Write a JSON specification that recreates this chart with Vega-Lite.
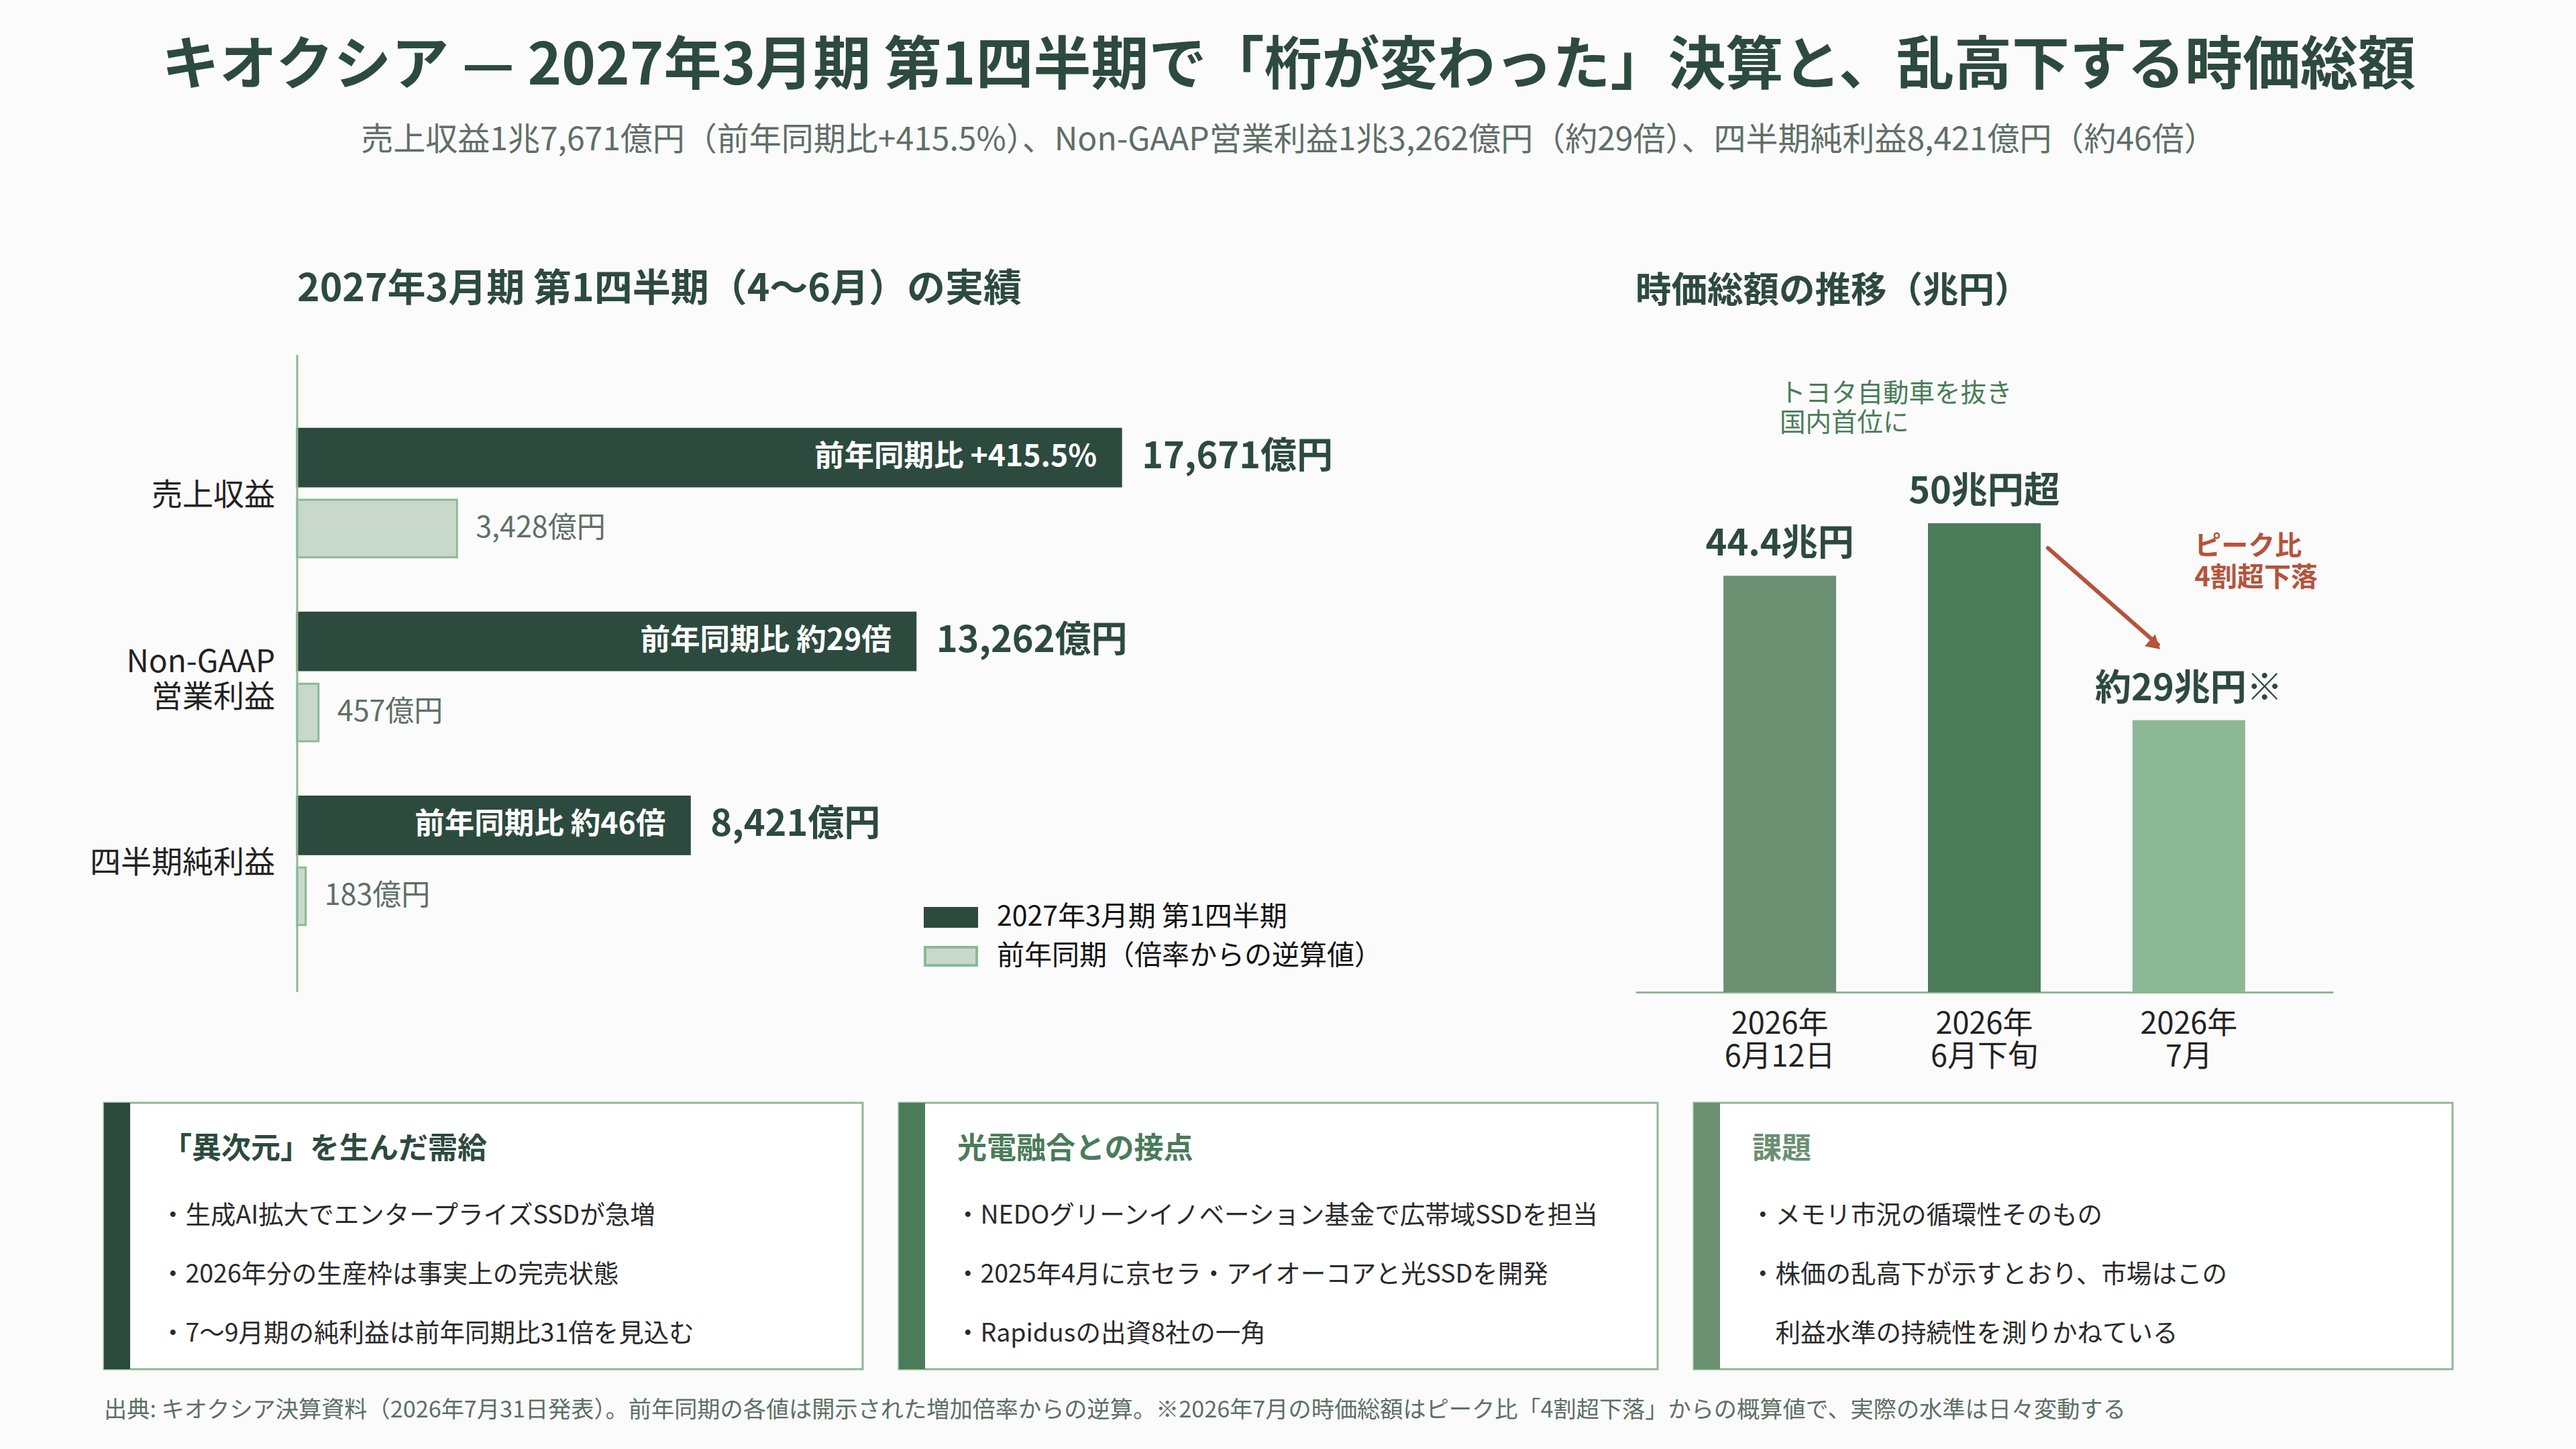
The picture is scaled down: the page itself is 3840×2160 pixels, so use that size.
{
  "$schema": "https://vega.github.io/schema/vega-lite/v6.json",
  "background": "#fbfbfb",
  "padding": {"left": 134, "top": 0, "right": 152, "bottom": 43},
  "config": {
    "font": "Noto Sans CJK JP",
    "view": {"stroke": null},
    "text": {"font": "Noto Sans CJK JP"}
  },
  "spacing": 42,
  "vconcat": [
    {
      "width": 3532,
      "height": 360,
      "data": {
        "values": [
          {"line": 0, "text": "キオクシア — 2027年3月期 第1四半期で「桁が変わった」決算と、乱高下する時価総額"},
          {"line": 1, "text": "売上収益1兆7,671億円（前年同期比+415.5%）、Non-GAAP営業利益1兆3,262億円（約29倍）、四半期純利益8,421億円（約46倍）"}
        ]
      },
      "encoding": {
        "x": {"datum": 0.5, "type": "quantitative", "axis": null, "scale": {"domain": [0, 1]}},
        "y": {"field": "line", "type": "ordinal", "axis": null, "scale": {"type": "band", "paddingInner": 0, "paddingOuter": 0.636, "align": 0.321}},
        "text": {"field": "text", "type": "nominal"}
      },
      "layer": [
        {
          "transform": [{"filter": "datum.line == 0"}],
          "mark": {"type": "text", "baseline": "middle", "fontSize": 86, "fontWeight": "bold", "color": "#2d4a3e"}
        },
        {
          "transform": [{"filter": "datum.line == 1"}],
          "mark": {"type": "text", "baseline": "middle", "fontSize": 48, "color": "#5f6f66"}
        }
      ]
    },
    {
      "spacing": 378,
      "resolve": {"scale": {"color": "independent", "stroke": "independent"}},
      "hconcat": [
        {
          "width": 1900,
          "height": 950,
          "title": {"text": "2027年3月期 第1四半期（4〜6月）の実績", "anchor": "start", "frame": "group", "dx": 288, "fontSize": 57, "fontWeight": "bold", "color": "#2d4a3e", "offset": 67},
          "data": {
            "values": [
              {"metric": "売上収益", "series": "2027年3月期 第1四半期", "value": 17671, "label": "17,671億円", "note": "前年同期比 +415.5%"},
              {"metric": "売上収益", "series": "前年同期（倍率からの逆算値）", "value": 3428, "label": "3,428億円"},
              {"metric": "Non-GAAP|営業利益", "series": "2027年3月期 第1四半期", "value": 13262, "label": "13,262億円", "note": "前年同期比 約29倍"},
              {"metric": "Non-GAAP|営業利益", "series": "前年同期（倍率からの逆算値）", "value": 457, "label": "457億円"},
              {"metric": "四半期純利益", "series": "2027年3月期 第1四半期", "value": 8421, "label": "8,421億円", "note": "前年同期比 約46倍"},
              {"metric": "四半期純利益", "series": "前年同期（倍率からの逆算値）", "value": 183, "label": "183億円"}
            ]
          },
          "encoding": {
            "x": {"field": "value", "type": "quantitative", "axis": null, "scale": {"domain": [-4144, 23194], "nice": false}}
          },
          "layer": [
            {
              "transform": [{"filter": "datum.note != null && indexof(datum.metric, '|') < 0"}],
              "mark": {"type": "text", "align": "right", "baseline": "middle", "dx": -33, "dy": 4, "fontSize": 46, "color": "#222222"},
              "encoding": {
                "x": {"datum": 0, "type": "quantitative"},
                "y": {
                  "field": "metric",
                  "type": "nominal",
                  "sort": null,
                  "axis": null,
                  "scale": {"domain": ["売上収益", "Non-GAAP|営業利益", "四半期純利益"], "paddingInner": 0, "paddingOuter": 0.233, "align": 0.54}
                },
                "text": {"field": "metric", "type": "nominal"}
              }
            },
            {
              "transform": [{"filter": "datum.note != null && indexof(datum.metric, '|') >= 0"}],
              "mark": {"type": "text", "align": "right", "baseline": "middle", "dx": -33, "dy": -21, "fontSize": 46, "lineHeight": 52, "lineBreak": "|", "color": "#222222"},
              "encoding": {
                "x": {"datum": 0, "type": "quantitative"},
                "y": {
                  "field": "metric",
                  "type": "nominal",
                  "sort": null,
                  "axis": null,
                  "scale": {"domain": ["売上収益", "Non-GAAP|営業利益", "四半期純利益"], "paddingInner": 0, "paddingOuter": 0.233, "align": 0.54}
                },
                "text": {"field": "metric", "type": "nominal"}
              }
            },
            {
              "encoding": {
                "y": {
                  "field": "metric",
                  "type": "nominal",
                  "sort": null,
                  "axis": null,
                  "scale": {"domain": ["売上収益", "Non-GAAP|営業利益", "四半期純利益"], "paddingInner": 0, "paddingOuter": 0.233, "align": 0.54}
                },
                "yOffset": {
                  "field": "series",
                  "type": "nominal",
                  "sort": null,
                  "scale": {"paddingInner": 0.19, "paddingOuter": 0.39}
                }
              },
              "layer": [
                {
                  "mark": {"type": "bar", "strokeWidth": 3},
                  "encoding": {
                    "color": {
                      "field": "series",
                      "type": "nominal",
                      "sort": null,
                      "title": null,
                      "scale": {"domain": ["2027年3月期 第1四半期", "前年同期（倍率からの逆算値）"], "range": ["#2d4a3e", "#c8d9cb"]},
                      "legend": {
                        "orient": "none",
                        "legendX": 1241,
                        "legendY": 817,
                        "symbolType": "M-2,-0.7H2V0.7H-2Z",
                        "symbolSize": 1482,
                        "symbolStrokeWidth": 4,
                        "labelFontSize": 41,
                        "labelColor": "#111111",
                        "labelLimit": 900,
                        "labelOffset": 47,
                        "rowPadding": 15,
                        "symbolOpacity": 1
                      }
                    },
                    "stroke": {
                      "field": "series",
                      "type": "nominal",
                      "sort": null,
                      "title": null,
                      "scale": {"domain": ["2027年3月期 第1四半期", "前年同期（倍率からの逆算値）"], "range": ["#2d4a3e", "#8db896"]}
                    }
                  }
                },
                {
                  "transform": [{"filter": "datum.note != null"}],
                  "mark": {"type": "text", "align": "left", "baseline": "middle", "dx": 31, "fontSize": 54, "fontWeight": "bold", "color": "#2d4a3e"},
                  "encoding": {"text": {"field": "label", "type": "nominal"}}
                },
                {
                  "transform": [{"filter": "datum.note != null"}],
                  "mark": {"type": "text", "align": "right", "baseline": "middle", "dx": -36, "fontSize": 44.5, "fontWeight": "bold", "color": "#ffffff"},
                  "encoding": {"text": {"field": "note", "type": "nominal"}}
                },
                {
                  "transform": [{"filter": "datum.note == null"}],
                  "mark": {"type": "text", "align": "left", "baseline": "middle", "dx": 28, "fontSize": 43, "color": "#5f6f66"},
                  "encoding": {"text": {"field": "label", "type": "nominal"}}
                }
              ]
            },
            {
              "data": {"values": [{"origin": 0}]},
              "mark": {"type": "rule", "color": "#8db896", "strokeWidth": 3},
              "encoding": {"x": {"field": "origin", "type": "quantitative"}}
            }
          ]
        },
        {
          "width": 1040,
          "height": 950,
          "title": {"text": "時価総額の推移（兆円）", "anchor": "start", "frame": "group", "fontSize": 53.5, "fontWeight": "bold", "color": "#2d4a3e", "offset": 67},
          "layer": [
            {
              "data": {
                "values": [
                  {"period": "2026年|6月12日", "cap": 44.4, "label": "44.4兆円"},
                  {"period": "2026年|6月下旬", "cap": 50, "label": "50兆円超"},
                  {"period": "2026年|7月", "cap": 29, "label": "約29兆円※"}
                ]
              },
              "encoding": {
                "x": {
                  "field": "period",
                  "type": "nominal",
                  "sort": null,
                  "title": null,
                  "scale": {"paddingInner": 0.449, "paddingOuter": 0.43},
                  "axis": {
                    "labelExpr": "split(datum.label,'|')",
                    "labelAngle": 0,
                    "labelFontSize": 45,
                    "labelLineHeight": 49,
                    "labelColor": "#222222",
                    "labelPadding": 25,
                    "labelLimit": 600,
                    "ticks": false,
                    "domainColor": "#8db896",
                    "domainWidth": 3,
                    "minExtent": 121,
                    "maxExtent": 121
                  }
                },
                "y": {"field": "cap", "type": "quantitative", "axis": null, "scale": {"domain": [0, 67.95], "nice": false}}
              },
              "layer": [
                {
                  "mark": {"type": "bar"},
                  "encoding": {
                    "color": {
                      "field": "period",
                      "type": "nominal",
                      "sort": null,
                      "legend": null,
                      "scale": {"domain": ["2026年|6月12日", "2026年|6月下旬", "2026年|7月"], "range": ["#6b8f71", "#4a7c59", "#8db896"]}
                    }
                  }
                },
                {
                  "mark": {"type": "text", "baseline": "middle", "dy": -46, "fontSize": 54, "fontWeight": "bold", "color": "#2d4a3e"},
                  "encoding": {"text": {"field": "label", "type": "nominal"}}
                }
              ]
            },
            {
              "data": {"values": [{"period": "2026年|6月12日", "level": 63.8, "note": "トヨタ自動車を抜き\n国内首位に"}]},
              "mark": {"type": "text", "align": "left", "baseline": "middle", "fontSize": 38.5, "lineHeight": 44, "lineBreak": "\n", "color": "#4a7c59"},
              "encoding": {
                "x": {"field": "period", "type": "nominal", "sort": null},
                "y": {"field": "level", "type": "quantitative", "scale": {"domain": [0, 67.95], "nice": false}},
                "text": {"field": "note", "type": "nominal"}
              }
            },
            {
              "data": {"values": [{"period": "2026年|7月", "level": 47.5, "note": "ピーク比\n4割超下落"}]},
              "mark": {"type": "text", "align": "left", "baseline": "middle", "fontSize": 40, "fontWeight": "bold", "lineHeight": 47, "lineBreak": "\n", "color": "#b5533c"},
              "encoding": {
                "x": {"field": "period", "type": "nominal", "sort": null, "bandPosition": 0.55},
                "y": {"field": "level", "type": "quantitative", "scale": {"domain": [0, 67.95], "nice": false}},
                "text": {"field": "note", "type": "nominal"}
              }
            },
            {
              "data": {"values": [{"from": "2026年|6月下旬", "to": "2026年|7月", "start": 47.35, "end": 37.05}]},
              "mark": {"type": "rule", "color": "#b5533c", "strokeWidth": 6, "strokeCap": "round"},
              "encoding": {
                "x": {"field": "from", "type": "nominal", "sort": null, "bandPosition": 1.065},
                "x2": {"field": "to", "bandPosition": 0.226},
                "y": {"field": "start", "type": "quantitative", "scale": {"domain": [0, 67.95], "nice": false}},
                "y2": {"field": "end"}
              }
            },
            {
              "data": {"values": [{"to": "2026年|7月", "end": 37.05}]},
              "mark": {"type": "point", "shape": "triangle-up", "filled": true, "size": 550, "angle": 131, "opacity": 1, "color": "#b5533c"},
              "encoding": {
                "x": {"field": "to", "type": "nominal", "sort": null, "bandPosition": 0.2},
                "y": {"field": "end", "type": "quantitative", "scale": {"domain": [0, 67.95], "nice": false}}
              }
            }
          ]
        }
      ]
    },
    {
      "spacing": 50,
      "hconcat": [
        {
          "width": 1131,
          "height": 397,
          "view": {"fill": "#ffffff", "stroke": "#8db896", "strokeWidth": 3},
          "data": {
            "values": [
              {"line": 0, "text": "「異次元」を生んだ需給"},
              {"line": 1, "text": "・生成AI拡大でエンタープライズSSDが急増"},
              {"line": 2, "text": "・2026年分の生産枠は事実上の完売状態"},
              {"line": 3, "text": "・7〜9月期の純利益は前年同期比31倍を見込む"}
            ]
          },
          "encoding": {
            "y": {
              "field": "line",
              "type": "ordinal",
              "axis": null,
              "scale": {"type": "band", "paddingInner": 0, "paddingOuter": 0.256, "align": 0.82}
            },
            "x": {"datum": 0, "type": "quantitative", "axis": null, "scale": {"domain": [0, 1]}},
            "text": {"field": "text", "type": "nominal"}
          },
          "layer": [
            {
              "transform": [{"filter": "datum.line == 0"}],
              "mark": {"type": "rect", "color": "#2d4a3e"},
              "encoding": {"y": {"value": 0}, "y2": {"value": 397}, "x2": {"datum": 0.0345}, "text": {"value": ""}}
            },
            {
              "transform": [{"filter": "datum.line == 0"}],
              "mark": {"type": "text", "align": "left", "baseline": "middle", "dx": 87, "dy": -11, "fontSize": 44, "fontWeight": "bold", "color": "#2d4a3e"}
            },
            {
              "transform": [{"filter": "datum.line > 0"}],
              "mark": {"type": "text", "align": "left", "baseline": "middle", "dx": 84, "fontSize": 37.5, "color": "#2a2a2a"}
            }
          ]
        },
        {
          "width": 1131,
          "height": 397,
          "view": {"fill": "#ffffff", "stroke": "#8db896", "strokeWidth": 3},
          "data": {
            "values": [
              {"line": 0, "text": "光電融合との接点"},
              {"line": 1, "text": "・NEDOグリーンイノベーション基金で広帯域SSDを担当"},
              {"line": 2, "text": "・2025年4月に京セラ・アイオーコアと光SSDを開発"},
              {"line": 3, "text": "・Rapidusの出資8社の一角"}
            ]
          },
          "encoding": {
            "y": {
              "field": "line",
              "type": "ordinal",
              "axis": null,
              "scale": {"type": "band", "paddingInner": 0, "paddingOuter": 0.256, "align": 0.82}
            },
            "x": {"datum": 0, "type": "quantitative", "axis": null, "scale": {"domain": [0, 1]}},
            "text": {"field": "text", "type": "nominal"}
          },
          "layer": [
            {
              "transform": [{"filter": "datum.line == 0"}],
              "mark": {"type": "rect", "color": "#4a7c59"},
              "encoding": {"y": {"value": 0}, "y2": {"value": 397}, "x2": {"datum": 0.0345}, "text": {"value": ""}}
            },
            {
              "transform": [{"filter": "datum.line == 0"}],
              "mark": {"type": "text", "align": "left", "baseline": "middle", "dx": 87, "dy": -11, "fontSize": 44, "fontWeight": "bold", "color": "#4a7c59"}
            },
            {
              "transform": [{"filter": "datum.line > 0"}],
              "mark": {"type": "text", "align": "left", "baseline": "middle", "dx": 84, "fontSize": 37.5, "color": "#2a2a2a"}
            }
          ]
        },
        {
          "width": 1131,
          "height": 397,
          "view": {"fill": "#ffffff", "stroke": "#8db896", "strokeWidth": 3},
          "data": {
            "values": [
              {"line": 0, "text": "課題"},
              {"line": 1, "text": "・メモリ市況の循環性そのもの"},
              {"line": 2, "text": "・株価の乱高下が示すとおり、市場はこの"},
              {"line": 3, "text": "\u200b　利益水準の持続性を測りかねている"}
            ]
          },
          "encoding": {
            "y": {
              "field": "line",
              "type": "ordinal",
              "axis": null,
              "scale": {"type": "band", "paddingInner": 0, "paddingOuter": 0.256, "align": 0.82}
            },
            "x": {"datum": 0, "type": "quantitative", "axis": null, "scale": {"domain": [0, 1]}},
            "text": {"field": "text", "type": "nominal"}
          },
          "layer": [
            {
              "transform": [{"filter": "datum.line == 0"}],
              "mark": {"type": "rect", "color": "#6b8f71"},
              "encoding": {"y": {"value": 0}, "y2": {"value": 397}, "x2": {"datum": 0.0345}, "text": {"value": ""}}
            },
            {
              "transform": [{"filter": "datum.line == 0"}],
              "mark": {"type": "text", "align": "left", "baseline": "middle", "dx": 87, "dy": -11, "fontSize": 44, "fontWeight": "bold", "color": "#6b8f71"}
            },
            {
              "transform": [{"filter": "datum.line > 0"}],
              "mark": {"type": "text", "align": "left", "baseline": "middle", "dx": 84, "fontSize": 37.5, "color": "#2a2a2a"}
            }
          ]
        }
      ]
    },
    {
      "width": 3504,
      "height": 36,
      "data": {"values": [{"note": "出典: キオクシア決算資料（2026年7月31日発表）。前年同期の各値は開示された増加倍率からの逆算。※2026年7月の時価総額はピーク比「4割超下落」からの概算値で、実際の水準は日々変動する"}]},
      "mark": {"type": "text", "align": "left", "baseline": "middle", "fontSize": 34.2, "color": "#5f6f66"},
      "encoding": {
        "x": {"datum": 0, "type": "quantitative", "axis": null, "scale": {"domain": [0, 1]}},
        "text": {"field": "note", "type": "nominal"}
      }
    }
  ]
}
